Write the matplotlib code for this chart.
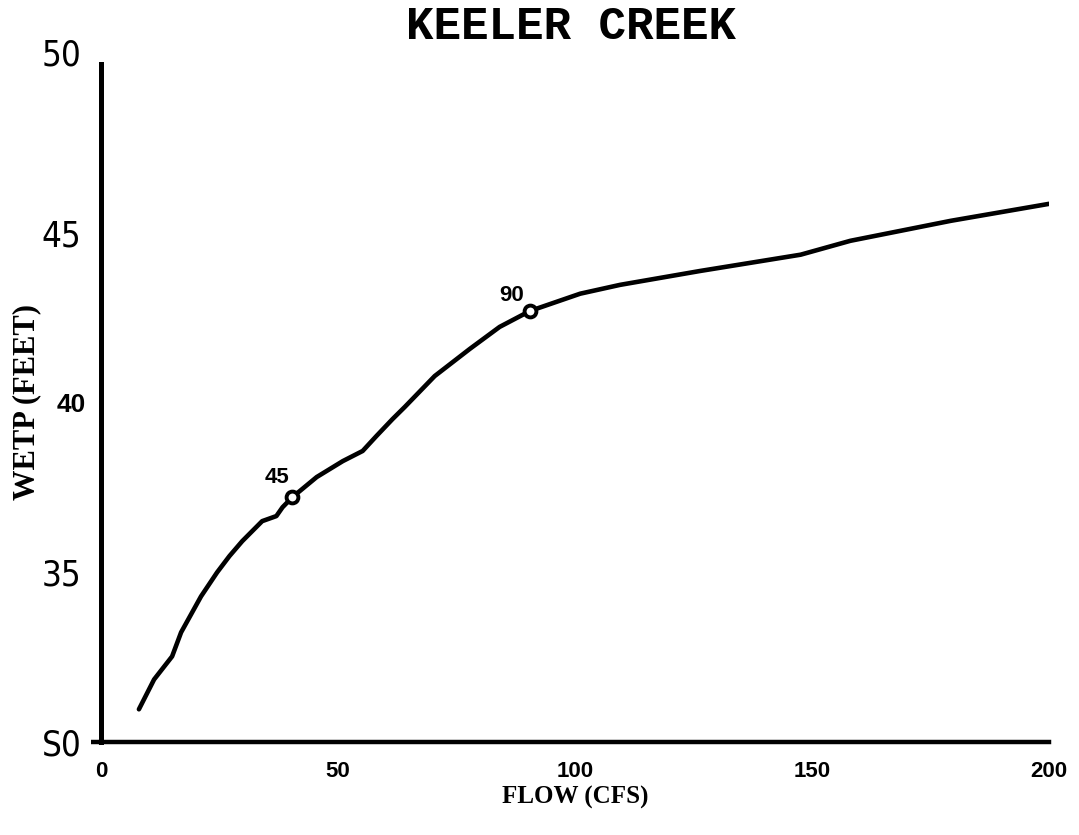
import matplotlib
matplotlib.use("Agg")
import matplotlib.pyplot as plt
from matplotlib import font_manager
from matplotlib.font_manager import FontProperties
from matplotlib.transforms import ScaledTranslation

# ---- data ----
flow = [8.0, 11.2, 15.0, 16.9, 21.1, 24.5, 27.1, 29.8, 34.0, 37.0, 38.3, 40.4,
        45.5, 51.0, 55.2, 58.1, 61.5, 64.1, 70.4, 77.8, 84.1, 90.5, 101.1,
        109.5, 126.4, 147.6, 158.1, 179.3, 200.0]
wetp = [30.95, 31.83, 32.51, 33.22, 34.28, 34.99, 35.47, 35.91, 36.50, 36.65,
        36.91, 37.21, 37.80, 38.27, 38.57, 39.01, 39.51, 39.87, 40.78, 41.58,
        42.23, 42.70, 43.21, 43.47, 43.88, 44.36, 44.77, 45.36, 45.86]
marker_flow = [40.4, 90.5]
marker_wetp = [37.21, 42.70]
marker_labels = ["45", "90"]
xticks = [0, 50, 100, 150, 200]
xticklabels = ["0", "50", "100", "150", "200"]
yticks = [30, 35, 40, 45, 50]
yticklabels = ["S0", "35", "40", "45", "50"]

# find a condensed / narrow font if any is installed
def _stretch_val(s):
    table = {"ultra-condensed": 100, "extra-condensed": 200, "condensed": 300,
             "semi-condensed": 400, "normal": 500}
    if isinstance(s, (int, float)):
        return s
    return table.get(str(s), 500)

cands = []
for f in font_manager.fontManager.ttflist:
    sv = _stretch_val(f.stretch)
    if ("Narrow" in f.name or "Condensed" in f.name or sv < 500) and f.style == "normal":
        w = f.weight if isinstance(f.weight, int) else 400
        cands.append((abs(w - 350), sv, f.fname))
cands.sort()
if cands:
    ytick_fp = FontProperties(fname=cands[0][2], size=25)
else:
    ytick_fp = FontProperties(family="DejaVu Sans", size=21)

fig = plt.figure(figsize=(10.79, 8.35), dpi=100)
ax = fig.add_axes([101 / 1079, 1 - 741.5 / 835, (1049 - 101) / 1079, (741.5 - 63.5) / 835])

ax.plot(flow, wetp, color="black", lw=3.3, solid_capstyle="round", solid_joinstyle="round")
ax.plot(marker_flow, marker_wetp, linestyle="none", marker="o", markersize=8.5,
        markerfacecolor="white", markeredgecolor="black", markeredgewidth=2.8)
offsets = [(-11, 14), (-13, 11)]
for xv, yv, lab, off in zip(marker_flow, marker_wetp, marker_labels, offsets):
    ax.annotate(lab, (xv, yv), xytext=off, textcoords="offset points",
                ha="center", va="center", fontsize=16, fontweight="heavy",
                family="Liberation Sans")

ax.set_xlim(0, 200)
ax.set_ylim(30, 50)
for s in ["top", "right"]:
    ax.spines[s].set_visible(False)
ax.spines["left"].set_linewidth(3.6)
ax.spines["bottom"].set_linewidth(3.2)

ax.set_xticks(xticks)
ax.set_xticklabels(xticklabels, fontsize=16, fontweight="bold", family="Liberation Sans")
ax.tick_params(axis="x", length=0, pad=14)

ax.set_yticks(yticks)
ax.set_yticklabels(yticklabels)
ax.tick_params(axis="y", length=0, pad=14)
for lab in ax.get_yticklabels():
    if lab.get_text() == "40":
        lab.set_fontweight("bold")
        lab.set_family("Liberation Sans")
        lab.set_fontsize(19)
        lab.set_transform(lab.get_transform() + ScaledTranslation(3 / 72, 0, fig.dpi_scale_trans))
    else:
        lab.set_fontproperties(ytick_fp)
    if lab.get_text() == "50":
        lab.set_transform(lab.get_transform() + ScaledTranslation(0, 8 / 72, fig.dpi_scale_trans))
first = ax.yaxis.get_major_ticks()[0]
first.tick1line.set_markersize(7.5)
first.tick1line.set_markeredgewidth(3.2)

ax.set_xlabel("FLOW (CFS)", fontsize=18, fontweight="bold", family="Liberation Serif", labelpad=3)
ax.set_ylabel("WETP (FEET)", fontsize=22, fontweight="bold", family="Liberation Serif")
ax.yaxis.set_label_coords(-0.063, 0.5)

fig.text(571 / 1079, 1 - 27 / 835, "KEELER CREEK", ha="center", va="center",
         fontsize=33, fontweight="bold", family="Liberation Mono")

fig.savefig("out.png", dpi=100)
